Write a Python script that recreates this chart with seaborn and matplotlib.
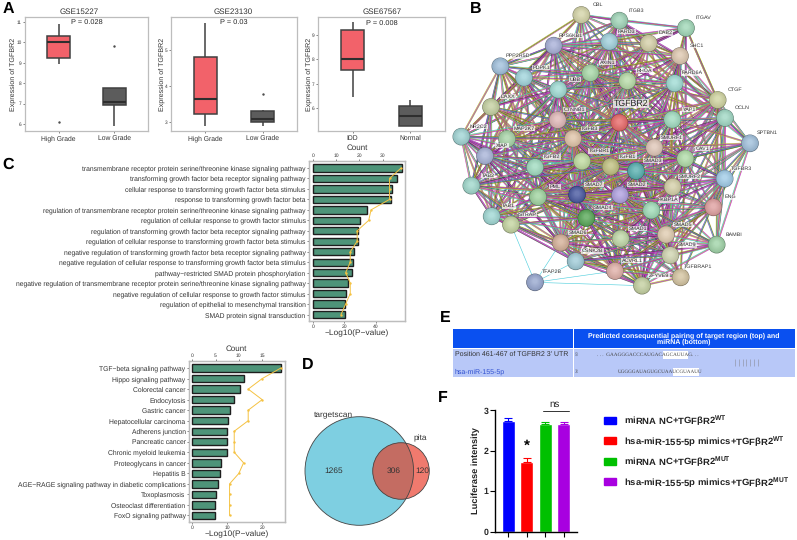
import numpy as np
import pandas as pd
import matplotlib
matplotlib.use('Agg')
import matplotlib.pyplot as plt
from matplotlib.collections import LineCollection
from matplotlib.patches import Circle, Rectangle
import seaborn as sns

sns.set_theme(style='white')
plt.rcParams['font.family'] = ['Liberation Sans', 'DejaVu Sans']
plt.rcParams['mathtext.fontset'] = 'custom'
plt.rcParams['mathtext.bf'] = 'Liberation Sans:bold'
plt.rcParams['text.hinting'] = 'no_hinting'

#^ Data ============================================================================================>
# samples are chosen so that quartiles and whiskers land on what the picture shows
gse15227_high = [6.1, 8.95, 9.25, 9.6, 10.03, 10.2, 10.3, 10.6, 10.87]
gse15227_low = [5.9, 6.9, 6.95, 7.0, 7.1, 7.5, 7.78, 7.78, 9.8]
gse23130_high = [2.9, 3.1, 3.23, 3.4, 3.65, 4.2, 4.8, 5.2, 5.75]
gse23130_low = [2.9, 2.95, 3.0, 3.03, 3.08, 3.2, 3.3, 3.35, 3.77]
gse67567_idd = [6.48, 7.0, 7.57, 7.8, 8.03, 8.6, 9.22, 9.4, 9.53]
gse67567_normal = [5.28, 5.28, 5.28, 5.5, 5.68, 5.9, 6.09, 6.2, 6.36]

go_terms = ['transmembrane receptor protein serine/threonine kinase signaling pathway',
            'transforming growth factor beta receptor signaling pathway',
            'cellular response to transforming growth factor beta stimulus',
            'response to transforming growth factor beta',
            'regulation of transmembrane receptor protein serine/threonine kinase signaling pathway',
            'regulation of cellular response to growth factor stimulus',
            'regulation of transforming growth factor beta receptor signaling pathway',
            'regulation of cellular response to transforming growth factor beta stimulus',
            'negative regulation of transforming growth factor beta receptor signaling pathway',
            'negative regulation of cellular response to transforming growth factor beta stimulus',
            'pathway\u2212restricted SMAD protein phosphorylation',
            'negative regulation of transmembrane receptor protein serine/threonine kinase signaling pathway',
            'negative regulation of cellular response to growth factor stimulus',
            'regulation of epithelial to mesenchymal transition',
            'SMAD protein signal transduction']
go_logp = [56.6, 53.8, 50.2, 49.8, 34.6, 30.1, 28.8, 28.8, 26.0, 25.6, 24.8, 22.4, 20.7, 20.3, 20.3]
go_count = [38, 33, 33, 33, 25, 24, 19, 19, 16, 16, 14, 16, 16, 14, 12]

kegg_terms = ['TGF\u2212beta signaling pathway', 'Hippo signaling pathway', 'Colorectal cancer', 'Endocytosis',
              'Gastric cancer', 'Hepatocellular carcinoma', 'Adherens junction', 'Pancreatic cancer',
              'Chronic myeloid leukemia', 'Proteoglycans in cancer', 'Hepatitis B',
              'AGE\u2212RAGE signaling pathway in diabetic complications', 'Toxoplasmosis',
              'Osteoclast differentiation', 'FoxO signaling pathway']
kegg_logp = [25.3, 14.9, 13.7, 12.0, 10.9, 10.3, 10.0, 9.8, 9.8, 8.1, 7.9, 7.3, 6.9, 6.5, 6.5]
kegg_count = [19, 15, 12, 15, 12, 12, 9, 9, 9, 11, 10, 8, 8, 8, 8]

venn_only_targetscan = 1265
venn_shared = 306
venn_only_pita = 120

luc_groups = ['miRNA NC+TGF\u03b2R2$^{\\mathbf{WT}}$', 'hsa-miR-155-5p mimics+TGF\u03b2R2$^{\\mathbf{WT}}$',
              'miRNA NC+TGF\u03b2R2$^{\\mathbf{MUT}}$', 'hsa-miR-155-5p mimics+TGF\u03b2R2$^{\\mathbf{MUT}}$']
luc_mean = [2.73, 1.73, 2.67, 2.65]
luc_err = [0.09, 0.09, 0.03, 0.07]
luc_colors = ['#0000FF', '#FF0000', '#00C000', '#A800E0']

node_names = ['CBL', 'ITGB3', 'ITGAV', 'PARD3', 'DAB2', 'RPS6KB1', 'SHC1', 'PPP2R5D', 'PDPK1', 'AXIN1', 'RHOA',
              'UBB', 'PARD6A', 'CTGF', 'DAXX', 'OCLN', 'YAP1', 'CTNNB1', 'TGFBR2', 'NR2C2', 'MAP2K7', 'TGFB3',
              'SPTBN1', 'XIAP', 'SMURF1', 'CAV1', 'TGFB2', 'TGFBR1', 'TGFB1', 'SMAD3', 'TGFBR3', 'TAB2', 'SMURF2',
              'SMAD7', 'SMAD2', 'PML', 'ENG', 'TAB1', 'STRAP', 'FKBP1A', 'SMAD4', 'SMAD6', 'SMAD1', 'SMAD5',
              'BAMBI', 'SMAD9', 'CSNK2B', 'ACVRL1', 'TGFBRAP1', 'ZFYVE9', 'TFAP2B']
node_x = [484, 598, 798, 568, 686, 401, 780, 241, 312, 511, 622, 415, 764, 893, 213, 915, 757, 413, 598, 124, 261,
          459, 990, 195, 703, 796, 345, 486, 572, 648, 914, 154, 758, 471, 600, 354, 880, 215, 273, 694, 499, 422,
          602, 738, 890, 751, 467, 585, 782, 666, 345]
node_y = [45, 62, 84, 125, 130, 137, 168, 199, 233, 219, 243, 269, 250, 300, 321, 354, 359, 360, 368, 410, 417,
          416, 430, 468, 443, 476, 502, 484, 500, 513, 536, 557, 561, 584, 585, 591, 622, 649, 674, 631, 654, 728,
          716, 704, 734, 766, 784, 813, 832, 857, 847]
node_colors = ['#DDDDB0', '#A8DDC0', '#A8E0C0', '#A8D8E4', '#DDD8B0', '#B0B8E0', '#E6D0B8', '#A8C8E4', '#A8DCE4',
               '#B0E0B0', '#C0E4B0', '#A8E4DC', '#A8E4DC', '#D8DCA8', '#CCD8A8', '#A8E0CC', '#A8E4C8', '#E8C0C0',
               '#F07070', '#A8DCDC', '#B0DCB0', '#E8CCB0', '#A8C8E4', '#B0BCE0', '#E8CFC0', '#B8E4B0', '#A8E4C8',
               '#C8E4A8', '#C8C888', '#60B8B8', '#A8D4F0', '#A8E0D4', '#DDD8B0', '#5060A8', '#B8A8E8', '#A8DCA8',
               '#E8A8A8', '#A8E0DC', '#CCDCA8', '#A8E4C0', '#60B060', '#DDB8A0', '#C8E0B0', '#E8D4B8', '#A8DCB0',
               '#D8DCB8', '#A8D4E0', '#E8B8B0', '#DCCCA8', '#CCD8A8', '#A0B0D8']
edge_palette = ['#C030B8', '#B4C020', '#3A3A3A', '#38C0D0', '#B4C020', '#8040A0', '#C030B8']
tfap2b_partners = ['STRAP', 'SMAD6', 'CSNK2B', 'ACVRL1', 'ZFYVE9']

W, H = 797, 540
fig = plt.figure(figsize=(W / 100, H / 100), dpi=100)
RED, DARK = '#F2626A', '#5C5C5C'
FRAME = '#BDBDBD'
TXT = '#333333'


#^ Functions =======================================================================================>
def px_axes(x0, y0, x1, y1):
    """ Axes placed with picture pixel corners;
    """
    return fig.add_axes([x0 / W, 1 - y1 / H, (x1 - x0) / W, (y1 - y0) / H])


def frame(ax):
    for s in ax.spines.values():
        s.set_color(FRAME)
        s.set_linewidth(0.9)
        s.set_visible(True)


def plot_box(ax, groups, samples, ylim, yticks):
    df = pd.DataFrame({'group': [g for g, s in zip(groups, samples) for _ in s],
                       'value': [v for s in samples for v in s]})
    sns.boxplot(data=df, x='group', y='value', hue='group', palette=[RED, DARK], width=0.4, saturation=1,
                linecolor='#404040', linewidth=1.1, fliersize=0.7, legend=False, showcaps=False,
                medianprops={'linewidth': 1.5, 'color': '#2E2E2E'}, ax=ax)
    ax.set_xlim(-0.6, 1.6)
    ax.set_ylim(*ylim)
    ax.set_yticks(yticks)
    ax.set_xlabel('')
    ax.set_ylabel('Expression of TGFBR2', fontsize=5.1, color=TXT, labelpad=0.2)
    ax.tick_params(axis='x', labelsize=4.9, length=1.5, width=0.4, pad=1.5, labelcolor=TXT, bottom=True)
    ax.tick_params(axis='y', labelsize=3.4, length=1.5, width=0.4, pad=1, labelcolor=TXT, left=True)
    frame(ax)


def plot_enrich(ax, terms, logp, count, xlim, toplim, xticks, topticks, ylim):
    sns.barplot(y=terms, x=logp, color='#4E9479', saturation=1, edgecolor='#1E1E1E', linewidth=1.0, width=0.7, ax=ax)
    ax.set_xlim(*xlim)
    ax.set_xticks(xticks)
    ax.tick_params(axis='x', labelsize=3.6, length=1.5, width=0.4, pad=1, labelcolor=TXT, bottom=True)
    ax.tick_params(axis='y', labelsize=4.84, length=1.5, width=0.4, pad=1, labelcolor=TXT, left=True)
    frame(ax)
    top = ax.twiny()
    pos = np.arange(len(terms))
    sns.lineplot(x=count, y=pos, sort=False, orient='y', estimator=None, color='#F5C242', linewidth=0.7, ax=top)
    sns.scatterplot(x=count, y=pos, color='#F5C242', s=3, linewidth=0, ax=top)
    top.set_xlim(*toplim)
    top.set_xticks(topticks)
    top.tick_params(axis='x', labelsize=3.6, length=1.5, width=0.4, pad=1, labelcolor=TXT, top=True)
    frame(top)
    ax.set_ylim(*ylim)


#^ Panel A =========================================================================================>
ax1 = px_axes(25, 17, 148, 131)
plot_box(ax1, ['High Grade', 'Low Grade'], [gse15227_high, gse15227_low], (5.66, 11.23), [6, 7, 8, 9, 10, 11])
ax2 = px_axes(171, 17, 297, 131)
plot_box(ax2, ['High Grade', 'Low Grade'], [gse23130_high, gse23130_low], (2.76, 5.91), [3, 4, 5])
ax3 = px_axes(318, 17, 445, 131)
plot_box(ax3, ['IDD', 'Normal'], [gse67567_idd, gse67567_normal], (5.07, 9.74), [6, 7, 8, 9])

#^ Panel C =========================================================================================>
ax_go = px_axes(309, 161, 405, 321)
plot_enrich(ax_go, go_terms, go_logp, go_count, (-2.76, 58.8), (-1.86, 39.7), [0, 20, 40], [0, 10, 20, 30],
            (14.62, -0.67))
ax_kegg = px_axes(189, 361, 285, 522)
plot_enrich(ax_kegg, kegg_terms, kegg_logp, kegg_count, (-0.94, 26.5), (-0.71, 19.9), [0, 10, 20], [0, 5, 10, 15],
            (14.62, -0.67))

#^ Panel F =========================================================================================>
ax_luc = px_axes(495, 410.3, 577, 531.7)
sns.barplot(x=list(range(4)), y=luc_mean, hue=list(range(4)), palette=luc_colors, saturation=1, width=0.69,
            legend=False, ax=ax_luc)
for i in range(4):
    ax_luc.errorbar(i, luc_mean[i], yerr=[[0], [luc_err[i]]], ecolor=luc_colors[i], elinewidth=0.8, capsize=2.6,
                    capthick=0.8, fmt='none')
ax_luc.set_xlim(-0.71, 3.72)
ax_luc.set_ylim(0, 3)
ax_luc.set_yticks([0, 1, 2, 3])
ax_luc.set_xticks(range(4))
ax_luc.set_xticklabels([])
sns.despine(ax=ax_luc)
for s in ['left', 'bottom']:
    ax_luc.spines[s].set_color('black')
    ax_luc.spines[s].set_linewidth(1.0)
ax_luc.tick_params(axis='x', length=3.5, width=0.8, color='black', bottom=True)
ax_luc.tick_params(axis='y', length=3.5, width=0.8, color='black', left=True, labelsize=6.3, pad=1)
for t in ax_luc.get_yticklabels():
    t.set_fontweight('bold')
ax_luc.set_ylabel('Luciferase intensity', fontsize=6.7, fontweight='bold', labelpad=3, color='#222222')
handles = [Rectangle((0, 0), 1, 1, color=c) for c in luc_colors]
fig.legend(handles, luc_groups, loc='upper left', bbox_to_anchor=(604 / W, 1 - 413.5 / H), frameon=False,
           handlelength=1.3, handleheight=0.75, handletextpad=0.8, labelspacing=0.62, borderpad=0, borderaxespad=0,
           prop={'weight': 'bold', 'size': 6.8, 'family': 'Liberation Sans'}, labelcolor='#222222')

#^ Overlay: text, venn, network, table =============================================================>
ov = fig.add_axes([0, 0, 1, 1], zorder=5)
ov.set_xlim(0, W)
ov.set_ylim(H, 0)
ov.axis('off')
ov.patch.set_alpha(0)


def label(x, y, s, size=5, color=TXT, ha='center', **kw):
    return ov.text(x, y, s, fontsize=size, color=color, ha=ha, va='center', **kw)


for x, y, s in [(8, 9, 'A'), (476, 9, 'B'), (8, 165, 'C'), (308, 365, 'D'), (445, 318, 'E'), (443, 398, 'F')]:
    label(x, y, s, size=11.5, color='black', fontweight='bold')
for x, s in [(79, 'GSE15227'), (233, 'GSE23130'), (382, 'GSE67567')]:
    label(x, 11.5, s, size=5.8)
for x, y, s in [(86.7, 22, 'P = 0.028'), (233.5, 22, 'P = 0.03'), (381.7, 23, 'P = 0.008')]:
    label(x, y, s, size=5.3, color='#222222')
label(357, 148, 'Count', size=5.8)
label(357, 333.7, '\u2212Log10(P\u2212value)', size=6)
label(236.7, 349, 'Count', size=5.8)
label(236.7, 534, '\u2212Log10(P\u2212value)', size=6)

# venn: areas follow the set sizes
scale = 54.3 / np.sqrt(venn_only_targetscan + venn_shared)
r_t = scale * np.sqrt(venn_only_targetscan + venn_shared)
r_p = scale * np.sqrt(venn_shared + venn_only_pita)
ct, cp = (359.3, 471), (401, 471)
ov.add_patch(Circle(ct, r_t, fc='#7ECFE1', ec='none'))
ov.add_patch(Circle(cp, r_p, fc='#F07A6E', ec='none'))
mid = Circle(cp, r_p, fc='#C46C62', ec='none')
ov.add_patch(mid)
mid.set_clip_path(Circle(ct, r_t, transform=ov.transData))
ov.add_patch(Circle(ct, r_t, fc='none', ec='#444444', lw=0.6))
ov.add_patch(Circle(cp, r_p, fc='none', ec='#444444', lw=0.6))
label(333.5, 471, str(venn_only_targetscan), size=6)
label(393.7, 471, str(venn_shared), size=6)
label(422, 471, str(venn_only_pita), size=6)
label(333.5, 414, 'targetscan', size=6)
label(420, 438, 'pita', size=6)

# network: zoomed picture coordinates mapped back to pixels
nx = 420 + np.array(node_x) / 3
ny = np.array(node_y) / 3
segs, cols = [], []
n = len(node_names)
for i in range(n):
    for j in range(i + 1, n):
        if node_names[j] == 'TFAP2B':
            if node_names[i] not in tfap2b_partners:
                continue
            use = ['#38C8D8']
        else:
            d = np.hypot(nx[i] - nx[j], ny[i] - ny[j])
            if (i * j + i + j) % 4 == 0 or d > 150:
                continue
            k = i * 3 + j * 5
            use = [edge_palette[(k + s) % 7] for s in (0, 1, 2, 4)]
        dx, dy = nx[j] - nx[i], ny[j] - ny[i]
        L = np.hypot(dx, dy)
        ox, oy = -dy / L * 0.45, dx / L * 0.45
        for m, c in enumerate(use):
            off = m - (len(use) - 1) / 2
            segs.append([(nx[i] + ox * off, ny[i] + oy * off), (nx[j] + ox * off, ny[j] + oy * off)])
            cols.append(c)
ov.add_collection(LineCollection(segs, colors=cols, linewidths=0.42, alpha=0.9, zorder=2))

for name, x, y, c in zip(node_names, nx, ny, node_colors):
    base = np.array(matplotlib.colors.to_rgb(c))
    ov.add_patch(Circle((x, y), 8.8, fc=base * 0.55, ec='none', zorder=3))
    for f, t in zip(np.linspace(8.3, 2.5, 7), np.linspace(0, 0.7, 7)):
        ov.add_patch(Circle((x, y - (8.8 - f) * 0.2), f, fc=base * (0.88 + 0.12 * t) * (1 - t * 0.25) + t * 0.25,
                            ec='none', zorder=3))
    if name == 'TGFBR2':
        ov.text(x + 11.5, y - 19.3, name, fontsize=6.3, color='#222222', ha='center', va='center', zorder=4,
                bbox=dict(fc='white', ec='none', alpha=0.7, pad=0.3))
    else:
        ov.text(x + 17, y - 10.3, name, fontsize=3.9, color='#333333', ha='center', va='center', zorder=4,
                bbox=dict(fc='white', ec='none', alpha=0.7, pad=0.3))

# table
ov.add_patch(Rectangle((453.3, 329), 119.5, 19.3, fc='#0A50F0', ec='none'))
ov.add_patch(Rectangle((573.8, 329), 221.2, 19.3, fc='#0A50F0', ec='none'))
ov.add_patch(Rectangle((453.3, 348.8), 119.5, 28, fc='#B8C8F8', ec='none'))
ov.add_patch(Rectangle((573.8, 348.8), 221.2, 28, fc='#B8C8F8', ec='none'))
label(684, 338.7, 'Predicted consequential pairing of target region (top) and\nmiRNA (bottom)', size=5, color='white',
      fontweight='bold', linespacing=1.05)
label(454.7, 354.5, "Position 461-467 of TGFBR2 3' UTR", size=5, ha='left')
label(454.7, 371.5, 'hsa-miR-155-5p', size=5, ha='left', color='#3050D0')
ov.add_patch(Rectangle((663, 350.5), 25, 8, fc='white', ec='none'))
ov.add_patch(Rectangle((672.7, 367.5), 26.6, 8, fc='white', ec='none'))
label(575, 355, "5'", size=3.8, ha='left', family='Liberation Serif')
label(575, 371.7, "3'", size=3.8, ha='left', family='Liberation Serif')
label(597, 355, '. . .  GAAGGGACCCAUGACAGCAUUAG. . .', size=3.75, ha='left', family='Liberation Serif', color='#444444')
label(617.7, 371.7, 'UGGGGAUAGUGCUAAUCGUAAUU', size=3.7, ha='left', family='Liberation Serif', color='#444444')
ov.vlines(np.linspace(735, 758, 7), 359, 366, color='#9AA0B8', lw=0.6)

# panel F annotations
label(526.5, 446, '*', size=11, color='black', fontweight='bold')
ov.plot([542.7, 568.7], [410.5, 410.5], color='#333333', lw=0.7)
label(554.7, 404, 'ns', size=7, color='#222222')

fig.savefig('out.png', dpi=100)
